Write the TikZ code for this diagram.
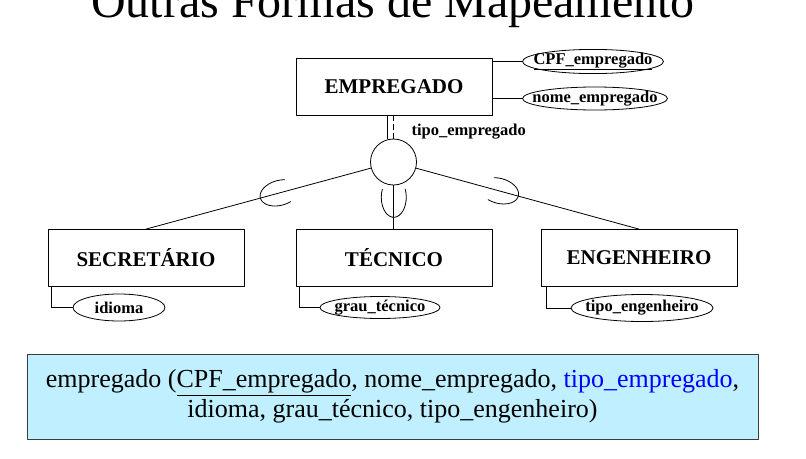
\documentclass[tikz,border=0pt]{standalone}
\usepackage{fontspec}
\setmainfont{Liberation Serif}
\usetikzlibrary{shapes.geometric,calc}
\definecolor{azulclaro}{RGB}{192,240,255}
\definecolor{bordacinza}{RGB}{60,60,60}
\begin{document}
\begin{tikzpicture}[x=1pt, y=1pt, line join=round,
    entidade/.style={draw, line width=0.8pt, minimum width=196pt, minimum height=57pt, inner sep=0pt, font=\fontsize{21}{25}\selectfont\bfseries},
    atributo/.style={draw, ellipse, line width=0.8pt, inner sep=0pt, font=\fontsize{16.5}{19}\selectfont\bfseries},
    ligacao/.style={line width=0.8pt}]
	\useasboundingbox (0,0) rectangle (806,-458);
	\node[anchor=base, font=\fontsize{48}{52}\selectfont] (titulo) at (393,-17) {Outras Formas de Mapeamento};
	\node[entidade] (emp) at (394,-86.5) {EMPREGADO};
	\node[entidade] (sec) at (146,-258) {SECRETÁRIO};
	\node[entidade] (tec) at (394,-257.5) {TÉCNICO};
	\node[entidade] (eng) at (639,-258) {ENGENHEIRO};
	\node[draw, circle, line width=0.8pt, minimum size=46pt, inner sep=0pt] (sub) at (393.5,-162) {};
	\node[atributo, minimum height=23pt] (cpf) at (593,-61.5) {\makebox[99.7pt]{\underline{CPF\_empregado}}};
	\node[atributo, minimum height=23pt] (nome) at (595,-98.5) {\makebox[102.5pt]{nome\_empregado}};
	\node[atributo, minimum height=27pt] (idi) at (119,-307.5) {\makebox[65pt]{idioma}};
	\node[atributo, minimum height=22pt] (grau) at (380,-307.5) {\makebox[84.9pt]{grau\_técnico}};
	\node[atributo, minimum height=27pt] (teng) at (642,-308) {\makebox[100.4pt]{tipo\_engenheiro}};
	\node[anchor=west, font=\fontsize{16.5}{19}\selectfont\bfseries] (disc) at (408,-132) {tipo\_empregado};
	\draw[line width=1.8pt] (cpf.west) -- (cpf.west -| emp.east);
	\draw[line width=1.8pt] (nome.west) -- (nome.west -| emp.east);
	\draw[ligacao] ([xshift=-6.5pt]sub.north |- emp.south) -- ([xshift=-6.5pt]sub.north);
	\draw[ligacao, dash pattern=on 6pt off 3pt] (sub.north |- emp.south) -- (sub.north);
	\draw[ligacao] (sub) -- (sec.north);
	\draw[ligacao] (sub) -- (eng.north);
	\draw[line width=1.8pt] (sub.south) -- (sub.south |- tec.north);
	\foreach \f/\b/\r in {0.46/sec/195.2, 0.53/tec/270, 0.43/eng/344.8}{
		\begin{scope}[shift={($(sub)!\f!(\b.north)$)}, rotate=\r]
			\draw[ligacao] (115:20pt and 12.5pt) arc[start angle=115, end angle=-115, x radius=20pt, y radius=12.5pt];
		\end{scope}
	}
	\draw[ligacao] (idi.west) -| ([xshift=4pt]sec.south west);
	\draw[ligacao] (grau.west) -| ([xshift=4pt]tec.south west);
	\draw[ligacao] (teng.west) -| ([xshift=6pt]eng.south west);
	\node[draw=bordacinza, fill=azulclaro, line width=0.8pt, minimum width=731pt, minimum height=85pt, inner sep=0pt, align=center, font=\fontsize{26}{30}\selectfont] (rel) at (392.5,-396.5)
		{empregado (\underline{CPF\_empregado}, nome\_empregado, \textcolor{blue}{tipo\_empregado},\\ idioma, grau\_técnico, tipo\_engenheiro)};
\end{tikzpicture}
\end{document}
